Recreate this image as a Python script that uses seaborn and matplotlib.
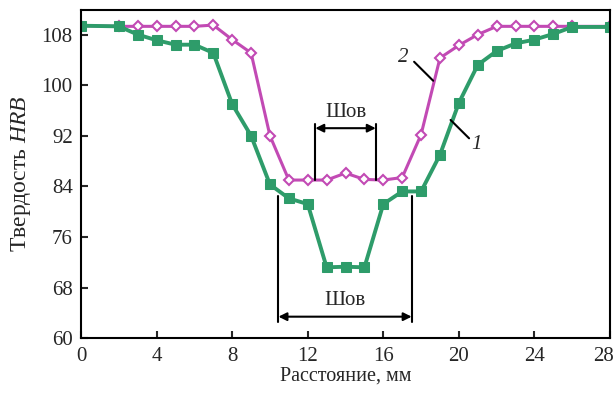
import numpy as np
import pandas as pd
import seaborn as sns
import matplotlib.pyplot as plt
from matplotlib.transforms import ScaledTranslation

# Distance along the sample, mm
dist = [0, 2, 3, 4, 5, 6, 7, 8, 9, 10, 11, 12, 13, 14, 15, 16, 17, 18,
        19, 20, 21, 22, 23, 24, 25, 26, 28]
# Curve 1 (green squares)
hrb_1 = [109.4, 109.3, 108.0, 107.1, 106.4, 106.4, 105.1, 97.0, 92.0, 84.3,
         82.1, 81.2, 71.2, 71.3, 71.2, 81.2, 83.2, 83.2, 89.0, 97.2, 103.2,
         105.4, 106.6, 107.2, 108.1, 109.2, 109.2]
# Curve 2 (magenta diamonds)
hrb_2 = [109.4, 109.3, 109.3, 109.3, 109.3, 109.3, 109.5, 107.2, 105.1, 92.0,
         85.0, 85.0, 85.0, 86.1, 85.1, 85.0, 85.4, 92.2, 104.3, 106.3, 108.0,
         109.3, 109.3, 109.3, 109.3, 109.3, 109.3]

yticks = [60, 68, 76, 84, 92, 100, 108]
xticks = [0, 4, 8, 12, 16, 20, 24, 28]

sns.set_style('ticks')
plt.rcParams['font.family'] = ['Liberation Serif', 'DejaVu Serif']
plt.rcParams['mathtext.fontset'] = 'custom'
plt.rcParams['mathtext.rm'] = 'Liberation Serif'
plt.rcParams['mathtext.it'] = 'Liberation Serif:italic'

df = pd.DataFrame({'dist': dist, 'c1': hrb_1, 'c2': hrb_2})

green = '#2E9C6A'
magenta = '#C24AB4'

fig = plt.figure(figsize=(6.14, 3.96), dpi=100)
ax = fig.add_axes([0.132, 0.146, 0.8615, 0.829])

sns.lineplot(data=df, x='dist', y='c2', ax=ax, color=magenta, lw=2.2,
             marker='D', markersize=5, markerfacecolor='white',
             markeredgecolor=magenta, markeredgewidth=1.5)
sns.lineplot(data=df, x='dist', y='c1', ax=ax, color=green, lw=2.8,
             marker='s', markersize=7, markeredgecolor=green)

ax.set_xlim(0, 28)
ax.set_ylim(60, 111.9)
ax.set_xticks(xticks)
ax.set_yticks(yticks)
ax.tick_params(direction='in', length=5, width=1.5, labelsize=15, pad=6)
for s in ax.spines.values():
    s.set_linewidth(1.5)
    s.set_color('black')

# keep the last x label inside the image
last = ax.get_xticklabels()[-1]
last.set_transform(last.get_transform() + ScaledTranslation(-0.07, 0, fig.dpi_scale_trans))

ax.set_xlabel('Расстояние, мм', fontsize=14.5, labelpad=1)
ax.set_ylabel('Твердость $\\mathit{HRB}$', fontsize=17, labelpad=6)

# Upper weld marker
for xv in [12.4, 15.6]:
    ax.plot([xv, xv], [85.0, 93.8], color='black', lw=1.5)
ax.annotate('', xy=(12.4, 93.2), xytext=(15.6, 93.2),
            arrowprops=dict(arrowstyle='<|-|>', color='black', lw=1.5,
                            mutation_scale=12, shrinkA=0, shrinkB=0))
ax.text(14.0, 94.2, 'Шов', ha='center', va='bottom', fontsize=15)

# Lower weld marker
for xv in [10.45, 17.5]:
    ax.plot([xv, xv], [82.4, 62.6], color='black', lw=1.5)
ax.annotate('', xy=(10.45, 63.4), xytext=(17.5, 63.4),
            arrowprops=dict(arrowstyle='<|-|>', color='black', lw=1.5,
                            mutation_scale=12, shrinkA=0, shrinkB=0))
ax.text(13.97, 64.4, 'Шов', ha='center', va='bottom', fontsize=15)

# Curve labels
ax.plot([19.56, 20.54], [94.5, 91.6], color='black', lw=1.5)
ax.text(20.95, 90.6, '1', style='italic', fontsize=15, ha='center', va='center')
ax.plot([17.63, 18.64], [103.7, 100.7], color='black', lw=1.5)
ax.text(17.05, 104.4, '2', style='italic', fontsize=15, ha='center', va='center')

fig.savefig('out.png', dpi=100)
